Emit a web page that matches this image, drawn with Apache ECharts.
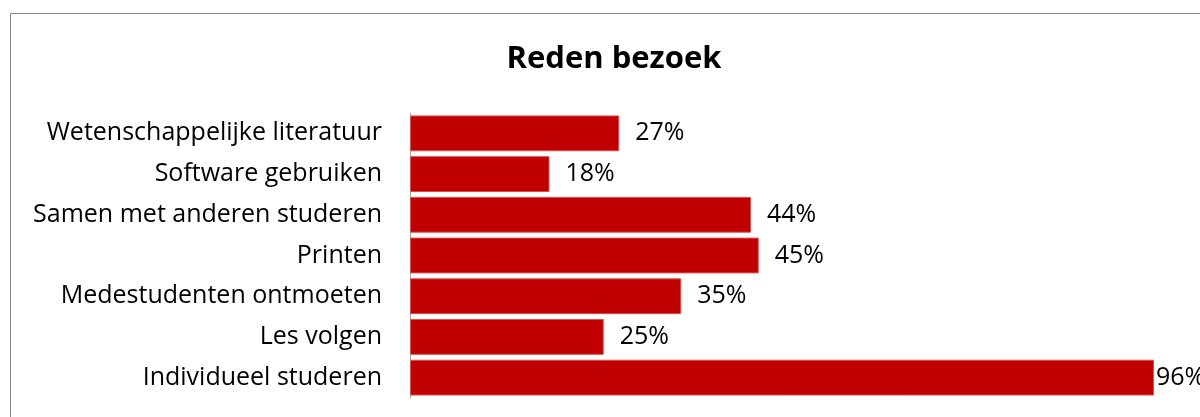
<!DOCTYPE html>
<html>
<head>
<meta charset="utf-8">
<script src="https://cdn.jsdelivr.net/npm/echarts@6/dist/echarts.min.js"></script>
<style>
  html, body { margin: 0; padding: 0; background: #fff; }
  #chart { width: 1200px; height: 417px; }
</style>
</head>
<body>
<div id="chart"></div>
<script>
// Reden bezoek - horizontal bars, top category first
let categories = [
    "Wetenschappelijke literatuur",
    "Software gebruiken",
    "Samen met anderen studeren",
    "Printen",
    "Medestudenten ontmoeten",
    "Les volgen",
    "Individueel studeren"
];
let percentages = [27, 18, 44, 45, 35, 25, 96];

let chartDom = document.getElementById("chart");
let chart = echarts.init(chartDom);

let barData = percentages.map(v => {
    let item = { value: v };
    // Excel pulls the last label back against the bar end
    if (v > 90) item.label = { distance: 2 };
    return item;
});

chart.setOption({
    animation: false,
    title: {
        text: "Reden bezoek",
        left: 609,
        top: 39,
        textAlign: "center",
        textStyle: { fontFamily: "Open Sans", fontWeight: "bold", fontSize: 31, color: "#000" }
    },
    graphic: [{
        type: "rect",
        shape: { x: 10.5, y: 13.5, width: 1300, height: 500 },
        style: { fill: "none", stroke: "#868686", lineWidth: 1 },
        silent: true
    }],
    grid: { left: 410, right: 15, top: 113, bottom: 19 },
    xAxis: {
        type: "value",
        min: 0,
        max: 100,
        show: false
    },
    yAxis: {
        type: "category",
        inverse: true,
        data: categories,
        axisLine: { show: true, lineStyle: { color: "#a6a6a6", width: 1 } },
        axisTick: { show: false },
        axisLabel: { fontFamily: "Open Sans", fontSize: 25, color: "#000", margin: 28, padding: [3, 0, 0, 0] }
    },
    series: [{
        type: "bar",
        data: barData,
        barCategoryGap: "12%",
        itemStyle: { color: "#c00000", borderColor: "#d9534f", borderWidth: 1 },
        label: {
            show: true,
            position: "right",
            distance: 16,
            formatter: "{c}%",
            fontFamily: "Open Sans",
            fontSize: 25,
            color: "#000",
            padding: [4, 0, 0, 0]
        }
    }]
});

window.onresize = function() {
    chart.resize();
};
</script>
</body>
</html>
